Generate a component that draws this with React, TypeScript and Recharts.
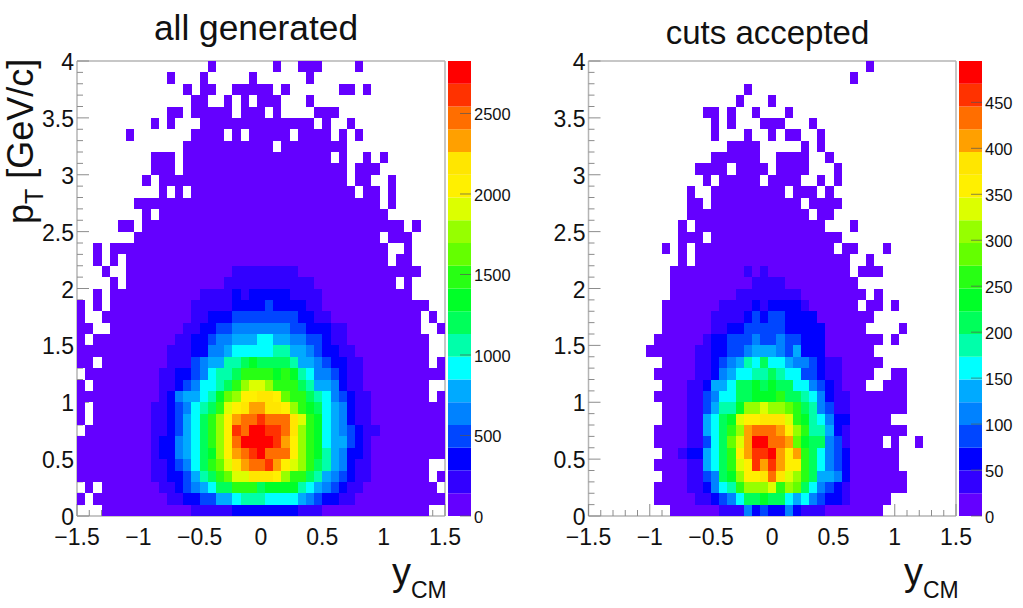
import React from "react";
import { ScatterChart, Scatter, XAxis, YAxis, ReferenceLine, BarChart, Bar } from "recharts";

// One character per histogram bin: "." = empty bin, otherwise the colour level 0-j (base 20).
// Rows run from pT = 4 (top) down to pT = 0; 45 bins in y_CM, 40 bins in pT.
const generatedRows = [
  "..... ..... ..... .0... ....0 ..000 ....0 ..... .....",
  "..... ..... .0... 0.... .0... ...0. ..... ..... .....",
  "..... ..... ...0. 00..0 0000. 0.... ..00. 0.... .....",
  "..... ..... ....0 0..0. 0.000 ...0. ..... ..... .....",
  "..... ..... .00.0 0000. 000.0 ....0 00... ..... .....",
  "..... ....0 .0... 00000 00000 0000. 0..0. ..... .....",
  "..... .0... ....0 000.0 .0000 0.000 0.0.0 ..... .....",
  "..... ..... ...00 00000 0000. 00000 000.. ..... .....",
  "..... ....0 00.00 00000 00000 00000 0.0.. 0.0.. .....",
  "..... ....0 00.00 00000 00000 00000 000.0 00... .....",
  "..... ...0. 00000 00000 00000 00000 000.0 0..0. .....",
  "..... ..... 0.0.0 00000 00000 00000 0000. 00.0. .....",
  "..... ..000 00000 00000 00000 00000 00000 00.0. .....",
  "..... ...0. 00000 00000 00000 00000 00000 000.. .....",
  "..... 00.00 00000 00000 00000 00000 00000 00000 .0...",
  "..... ..000 00000 00000 00000 00000 00000 00.00 0....",
  "..0.0 00000 00000 00000 00000 00000 00000 000.. 0....",
  "..0.0 .0000 00000 00000 00000 00000 00000 000.0 0....",
  "...0. .0000 00000 00001 11111 11000 00000 00000 00...",
  "....0 .0000 00000 00011 11111 11110 00000 0000. 0....",
  "..0.0 00000 00000 11112 12222 21111 00000 00000 0....",
  "0.0.0 00000 00001 11112 22232 22211 00000 00000 000..",
  "0..00 00000 00001 12223 33333 33221 10000 00000 00.0.",
  "00..0 00000 00011 22334 44444 43322 21100 00000 00..0",
  "0.000 00000 00112 23445 55665 54433 21100 00000 000..",
  "00000 00000 01112 24456 66667 75543 22110 00000 000..",
  "00.00 00000 01113 45577 89888 87554 32211 00000 000.0",
  ".0000 00000 11223 46778 aaaa9 a9764 43211 00000 00000",
  "0.000 00000 11234 6678a cddca aa875 54211 00000 000..",
  "00000 00000 12455 679bc eeffe baa87 64321 10000 000.0",
  "0.000 00001 12346 78ade fggff eca98 65421 10000 00000",
  "0.000 00001 12356 8aceg hhihh hfda9 65421 10000 00000",
  ".0000 00001 12356 8acei hjjii hfca9 65432 11000 00000",
  "00000 00001 22456 8aceh jjjji geca9 65532 10000 00000",
  "00000 00001 22456 89ceg hijhh heca9 75422 10000 00000",
  "00000 00001 12346 8abdf ghhig edca8 75421 10000 000..",
  "00000 00001 12235 78abd dfffe caa87 54321 10000 000.0",
  ".0.00 00000 11234 5688a aa899 99765 43211 00000 0000.",
  "0.000 00000 01122 33556 77766 66543 22110 00000 00000",
  "...00 00000 00001 11112 22222 22111 00000 00000 000..",
];

const acceptedRows = [
  "..... ..... ..... ..... ..... ..... ....0 ..... .....",
  "..... ..... ..... ..... ..... ..... ..0.. ..... .....",
  "..... ..... ..... ....0 ..... ..... ..... ..... .....",
  "..... ..... ..... ...0. ..0.. ..... ..... ..... .....",
  "..... ..... ....0 0.0.. 0...0 ..... ..... ..... .....",
  "..... ..... ..... 0.0.. .000. ..0.. ..... ..... .....",
  "..... ..... ..... 0...0 ..0.0 0..0. ..... ..... .....",
  "..... ..... ..... ..000 0.... .0.0. ..... ..... .....",
  "..... ..... ..... 00000 0..00 00..0 ..... ..... .....",
  "..... ..... ...00 00.00 00.00 00... 0.... ..... .....",
  "..... ..... ....0 .0000 0.000 0..0. 0.... ..... .....",
  "..... ..... ..0.. 00000 0000. 000.0 ..... ..... .....",
  "..... ..... ..00. 00000 00000 0.000 0.... ..... .....",
  "..... ..... ..000 00000 00000 00.00 ..... ..... .....",
  "..... ..... .0.00 00000 00000 0000. ..0.. ..... .....",
  "..... ..... .000. 00000 00000 00000 0.... ..... .....",
  "..... ....0 .0.00 00000 00000 00000 .00.. .0... .....",
  "..... ..... .0.00 00000 00000 00000 00..0 ..... .....",
  "..... ..... 00000 00001 01000 00000 00.00 0.... .....",
  "..... ..... 00000 00000 11110 00000 000.. ..... .....",
  "..... ..... 00000 00011 11111 10000 0000. 0.... .....",
  "..... ....0 00000 01111 21222 21000 000.0 0.0.. .....",
  "..... ....0 00000 11112 32332 22200 00000 ..... .....",
  "..... ....0 00000 11223 33332 22220 0000. ...0. .....",
  "..... ...00 00001 22333 43343 32220 00000 0.0.. .....",
  "..... ..000 00011 22334 55543 52220 00000 ..... .....",
  "..... ....0 00011 23457 68665 44321 10000 0.... .....",
  "..... ...00 00011 24566 77876 63321 10000 ..00. .....",
  "..... ....0 00112 55688 98988 66432 1000. .000. .....",
  "..... ...00 00113 46688 999a8 87642 11000 0000. .....",
  "..... ....0 00113 5779c cdccb a8743 11000 0000. .....",
  "..... ....0 00115 689de efffd a9764 22000 00... .....",
  "..... ...00 00115 68acg hhhge ca775 21000 0000. .....",
  "..... ...00 00113 68bdg jjhhg b9884 31000 0.0.. 0....",
  "..... ....0 01225 68aeg iijge ga864 32000 000.. .....",
  "..... ...00 00115 68ade igige ea864 32000 000.. .....",
  "..... ....0 00113 489ce efhfd ca855 42000 0000. .....",
  "..... ...00 00112 467ac ccdac b8643 21000 0000. .....",
  "..... ...00 00011 23468 89886 56432 21000 00... .....",
  "..... ..... 00000 01114 23224 21110 00000 0.... .....",
];

// Palette, from the colour bars, lowest level first.
const palette = [
  "#6400ff", "#3200ff", "#0000ff", "#0046ff", "#0082ff", "#00aaff", "#00ffff", "#00ffaa", "#00ff5a", "#00ff28",
  "#28ff14", "#64ff00", "#96ff00", "#dcff00", "#fff000", "#ffe600", "#ffa000", "#ff6e00", "#ff3200", "#ff0000",
];

const xTicks = [-1.5,-1.4,-1.3,-1.2,-1.1,-1,-0.9,-0.8,-0.7,-0.6,-0.5,-0.4,-0.3,-0.2,-0.1,0,0.1,0.2,0.3,0.4,0.5,0.6,0.7,0.8,0.9,1,1.1,1.2,1.3,1.4,1.5];
const yTicks = [0,0.1,0.2,0.3,0.4,0.5,0.6,0.7,0.8,0.9,1,1.1,1.2,1.3,1.4,1.5,1.6,1.7,1.8,1.9,2,2.1,2.2,2.3,2.4,2.5,2.6,2.7,2.8,2.9,3,3.1,3.2,3.3,3.4,3.5,3.6,3.7,3.8,3.9,4];
const xMajor = [-1.5, -1, -0.5, 0, 0.5, 1, 1.5];
const yMajor = [0, 0.5, 1, 1.5, 2, 2.5, 3, 3.5, 4];
const frameCorners = [{ x: -1.5, y: 0 }, { x: 1.5, y: 4 }];

const leftStep = 2826 / 20;
const rightStep = 495 / 20;
const leftBarTicks = [0, 500, 1000, 1500, 2000, 2500];
const rightBarTicks = [0, 50, 100, 150, 200, 250, 300, 350, 400, 450];

const FONT = "'Liberation Sans', Arial, sans-serif";
const FRAME = "#b4b4b4";
const TICK = "#8c8c8c";
const PLOT_H = 455;
const TOP = 61;
const BOTTOM = 608 - TOP - PLOT_H;
const RIGHT_PAD = 30;

const isMajor = (v: number, list: number[]) => list.some((m) => Math.abs(m - v) < 1e-6);
const fmt = (v: number) => (v < 0 ? "\u2212" : "") + String(Math.abs(v));

function toCells(rows: string[], step: number) {
  const cells: { x: number; y: number; z: number }[] = [];
  rows.forEach((row, r) => {
    row.replace(/ /g, "").split("").forEach((ch, c) => {
      if (ch === ".") return;
      const level = parseInt(ch, 20);
      cells.push({ x: -1.5 + ((c + 0.5) * 3) / 45, y: 4 - (r + 0.5) * 0.1, z: (level + 0.5) * step });
    });
  });
  return cells;
}

function HeatPanel({ rows, step, left, axisWidth, plotW }: { rows: string[]; step: number; left: number; axisWidth: number; plotW: number }) {
  const cw = plotW / 45;
  const rh = PLOT_H / 40;
  const data = toCells(rows, step);
  const Cell = (p: any) => {
    const level = Math.floor(p.payload.z / step);
    return (
      <rect
        x={p.cx - cw / 2}
        y={p.cy - rh / 2}
        width={cw + 0.05}
        height={rh + 0.05}
        fill={palette[level]}
        shapeRendering="crispEdges"
      />
    );
  };
  const NoMark = () => <g />;
  const XTick = (p: any) => {
    const v = p.payload.value;
    const major = isMajor(v, xMajor);
    return (
      <g>
        <line x1={p.x} x2={p.x} y1={TOP + PLOT_H} y2={TOP + PLOT_H - (major ? 12 : 6)} stroke={TICK} strokeWidth={1} />
        {major && (
          <text x={p.x} y={TOP + PLOT_H + 29} textAnchor="middle" fontFamily={FONT} fontSize={23} fill="#111">
            {fmt(v)}
          </text>
        )}
      </g>
    );
  };
  const YTick = (p: any) => {
    const v = p.payload.value;
    const major = isMajor(v, yMajor);
    return (
      <g>
        <line x1={axisWidth} x2={axisWidth + (major ? 12 : 6)} y1={p.y} y2={p.y} stroke={TICK} strokeWidth={1} />
        {major && (
          <text x={axisWidth - 3} y={p.y + 9} textAnchor="end" fontFamily={FONT} fontSize={23} fill="#111">
            {fmt(v)}
          </text>
        )}
      </g>
    );
  };
  const width = axisWidth + plotW + RIGHT_PAD;
  return (
    <>
      {/* axes layer: ticks lie underneath the histogram, as in the reference */}
      <div style={{ position: "absolute", left, top: 0 }}>
        <ScatterChart width={width} height={608} margin={{ top: TOP, right: RIGHT_PAD, bottom: 0, left: 0 }}>
          <XAxis
            type="number"
            dataKey="x"
            domain={[-1.5, 1.5]}
            ticks={xTicks}
            interval={0}
            height={BOTTOM}
            tick={XTick}
            tickLine={false}
            tickSize={0}
            axisLine={{ stroke: FRAME, strokeWidth: 1.5 }}
            allowDataOverflow
          />
          <YAxis
            type="number"
            dataKey="y"
            domain={[0, 4]}
            ticks={yTicks}
            interval={0}
            width={axisWidth}
            tick={YTick}
            tickLine={false}
            tickSize={0}
            axisLine={{ stroke: FRAME, strokeWidth: 1.5 }}
            allowDataOverflow
          />
          <ReferenceLine y={4} stroke={FRAME} strokeWidth={1.5} />
          <ReferenceLine x={1.5} stroke={FRAME} strokeWidth={1.5} />
          <Scatter data={frameCorners} shape={NoMark} isAnimationActive={false} />
        </ScatterChart>
      </div>
      {/* histogram layer */}
      <div style={{ position: "absolute", left, top: 0 }}>
        <ScatterChart width={width} height={608} margin={{ top: TOP, right: RIGHT_PAD, bottom: BOTTOM, left: axisWidth }}>
          <XAxis type="number" dataKey="x" domain={[-1.5, 1.5]} hide allowDataOverflow />
          <YAxis type="number" dataKey="y" domain={[0, 4]} hide allowDataOverflow />
          <Scatter data={data} shape={Cell} isAnimationActive={false} />
        </ScatterChart>
      </div>
    </>
  );
}

function ColorBar({ step, max, ticks, left, barW }: { step: number; max: number; ticks: number[]; left: number; barW: number }) {
  const row: Record<string, number | string> = { name: "z" };
  palette.forEach((_, i) => (row["l" + i] = step));
  const Tick = (p: any) => (
    <g>
      <text x={barW + 3} y={p.y + 7} textAnchor="start" fontFamily={FONT} fontSize={16.5} fill="#111">
        {p.payload.value}
      </text>
    </g>
  );
  const TickMark = (p: any) => {
    const xr = Math.max(p.x1, p.x2);
    return <line x1={xr - 11} x2={xr} y1={p.y1} y2={p.y2} stroke="#555" strokeOpacity={0.7} strokeWidth={1} />;
  };
  return (
    <div style={{ position: "absolute", left, top: 0 }}>
      <BarChart
        width={barW + 60}
        height={608}
        data={[row]}
        barCategoryGap={0}
        margin={{ top: TOP, right: 0, bottom: BOTTOM, left: 0 }}
      >
        <XAxis dataKey="name" hide />
        <YAxis
          orientation="right"
          type="number"
          domain={[0, max]}
          ticks={ticks}
          interval={0}
          width={60}
          tick={Tick}
          tickLine={false}
          tickSize={0}
          axisLine={false}
          allowDataOverflow
        />
        {palette.map((color, i) => (
          <Bar key={i} dataKey={"l" + i} stackId="c" fill={color} isAnimationActive={false} />
        ))}
        {ticks.map((t) => (
          <ReferenceLine key={t} y={t} shape={TickMark} />
        ))}
      </BarChart>
    </div>
  );
}

function Labels() {
  const t = { fontFamily: FONT, fill: "#111" };
  return (
    <svg width={1023} height={608} style={{ position: "absolute", left: 0, top: 0, pointerEvents: "none" }}>
      <text x={256} y={40} textAnchor="middle" fontSize={35.3} {...t}>all generated</text>
      <text x={767.5} y={44} textAnchor="middle" fontSize={33} {...t}>cuts accepted</text>
      <text transform="translate(33,224) rotate(-90)" fontSize={36} {...t}>
        p<tspan fontSize={25} dy={10}>T</tspan><tspan dy={-10}> [GeV/c]</tspan>
      </text>
      <text x={392} y={585} fontSize={38} {...t}>y<tspan fontSize={23} dy={13}>CM</tspan></text>
      <text x={904} y={585} fontSize={38} {...t}>y<tspan fontSize={23} dy={13}>CM</tspan></text>
    </svg>
  );
}

export default function App() {
  return (
    <div style={{ position: "absolute", left: 0, top: 0, width: 1023, height: 608, background: "#fff", overflow: "hidden" }}>
      <HeatPanel rows={generatedRows} step={leftStep} left={0} axisWidth={77} plotW={368} />
      <ColorBar step={leftStep} max={2826} ticks={leftBarTicks} left={447.5} barW={23} />
      <HeatPanel rows={acceptedRows} step={rightStep} left={520} axisWidth={68.5} plotW={367.5} />
      <ColorBar step={rightStep} max={495} ticks={rightBarTicks} left={959} barW={23} />
      <Labels />
    </div>
  );
}
